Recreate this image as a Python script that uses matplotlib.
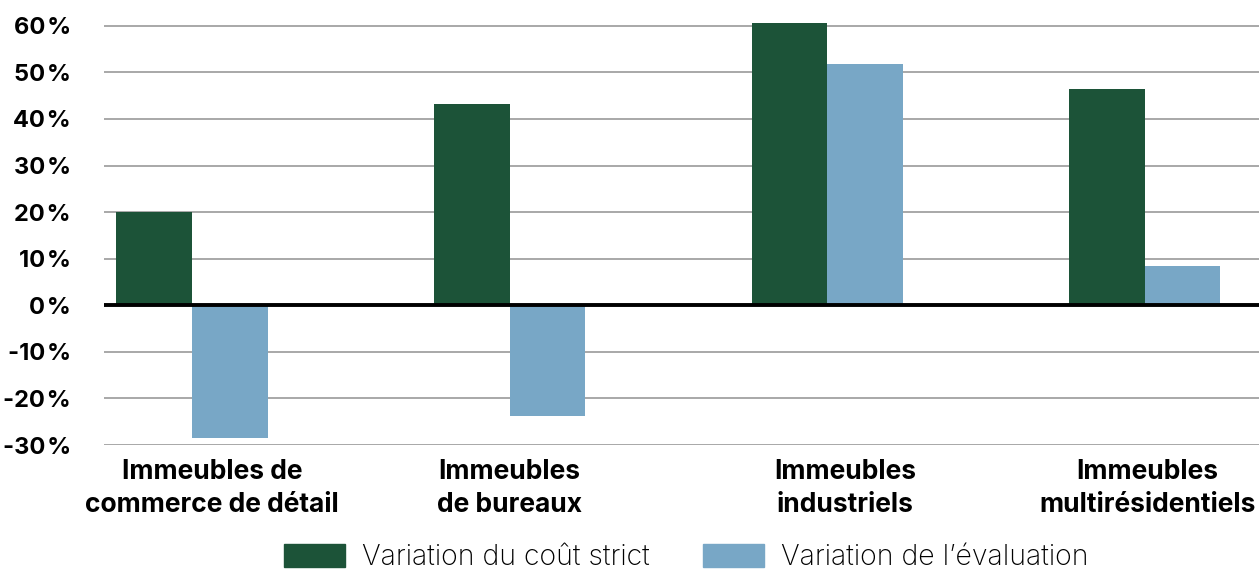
import matplotlib.pyplot as plt
from matplotlib.patches import Patch
from matplotlib.transforms import offset_copy
import numpy as np

categories = ["Immeubles de\ncommerce de détail", "Immeubles\nde bureaux",
              "Immeubles\nindustriels", "Immeubles\nmultirésidentiels"]
cout_strict = [20.0, 43.2, 60.6, 46.4]
evaluation = [-28.6, -23.7, 51.8, 8.5]
series_names = ["Variation du coût strict", "Variation de l\u2019évaluation"]
yticks = [-30, -20, -10, 0, 10, 20, 30, 40, 50, 60]
# labels are not quite centred under their groups in the original
label_shift_px = [20, 0, 18, 3]

green = "#1c5338"
blue = "#78a7c6"

plt.rcParams['font.family'] = ['Inter', 'DejaVu Sans']

fig = plt.figure(figsize=(12.59, 5.76), dpi=100)
ax = fig.add_axes([0.0826, 0.2274, 0.9174, 0.74])

x = np.arange(len(categories))
w = 0.238
ax.bar(x - w / 2, cout_strict, w, color=green, zorder=3)
ax.bar(x + w / 2, evaluation, w, color=blue, zorder=3)

ax.set_xlim(-0.277, 3.36)
ax.set_ylim(-30, 61.5)
ax.set_yticks(yticks)
ax.set_yticklabels([f"{v}\u200a%" for v in yticks], fontsize=17, fontweight='bold')
ax.set_xticks(x)
ax.set_xticklabels(categories, fontsize=19, fontweight='bold', linespacing=1.35)
ax.tick_params(axis='both', length=0)
ax.tick_params(axis='x', pad=10)
ax.tick_params(axis='y', pad=24)
for lbl, dx in zip(ax.get_xticklabels(), label_shift_px):
    lbl.set_transform(offset_copy(lbl.get_transform(), fig=fig, x=dx, units='dots'))

ax.grid(axis='y', color='#999999', linewidth=1.2, zorder=0)
ax.axhline(0, color='black', linewidth=2.8, zorder=4)
for s in ax.spines.values():
    s.set_visible(False)

handles = [Patch(color=green), Patch(color=blue)]
fig.legend(handles, series_names, loc='lower center', bbox_to_anchor=(0.545, -0.036),
           ncol=2, frameon=False, handlelength=2.15, handleheight=0.85,
           handletextpad=0.6, columnspacing=1.86,
           prop={'family': ['Inter', 'DejaVu Sans'], 'weight': 'light', 'size': 20.5})

fig.savefig("out.png", dpi=100)
